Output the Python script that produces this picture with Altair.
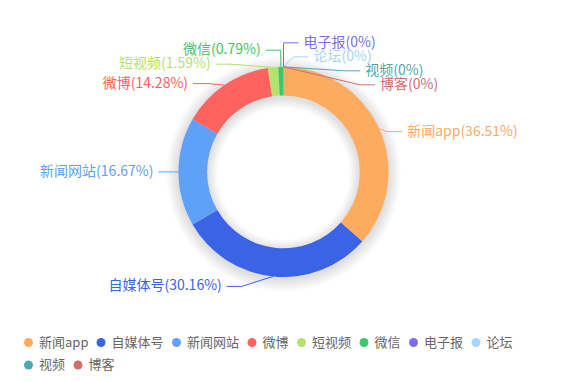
import math
import altair as alt
import pandas as pd

# ---------------- data ----------------
names = ["新闻app", "自媒体号", "新闻网站", "微博", "短视频", "微信", "电子报", "论坛", "视频", "博客"]
counts = [46, 38, 21, 18, 2, 1, 0, 0, 0, 0]
colors = ["#fdab5e", "#3b63e6", "#5fa0f8", "#ff6360", "#b4e26e",
          "#3ec66b", "#7e6cf7", "#a9d3fd", "#4aaab3", "#d06e6a"]

W, H = 567, 382
FONT = "Noto Sans CJK SC"

# ---------------- percentages (largest remainder, 2 decimals) ----------------
total = sum(counts)
quota = [c / total * 10000 for c in counts]
seats = [math.floor(q) for q in quota]
rem = [q - s for q, s in zip(quota, seats)]
left_over = 10000 - sum(seats)
for i in sorted(range(len(rem)), key=lambda k: -rem[k])[:left_over]:
    seats[i] += 1
pcts = [s / 100 for s in seats]


def fmt(p):
    return ("%.2f" % p).rstrip("0").rstrip(".")


labels = [f"{n}({fmt(p)}%)" for n, p in zip(names, pcts)]

# ---------------- outer-label layout (pie label avoid-overlap) ----------------
cx, cy = W * 0.5, H * 0.45
R = min(W, H) / 2 * 0.55
R0 = min(W, H) / 2 * 0.40
LEN, LEN2, DIST, LH = 10, 15, 5, 14

items = []
cum = 0
for i, c in enumerate(counts):
    a0 = cum / total * 2 * math.pi
    cum += c
    a1 = cum / total * 2 * math.pi
    mid = (a0 + a1) / 2
    dx, dy = math.sin(mid), -math.cos(mid)
    s = -1 if dx < -1e-9 else 1
    x1, y1 = cx + R * dx, cy + R * dy
    x2, y2 = x1 + dx * LEN, y1 + dy * LEN
    x3 = x2 + s * LEN2
    items.append({"i": i, "x": x3 + s * DIST, "y": y2, "s": s, "x1": x1, "y1": y1})


def change_x(lst, is_down, d):
    last = float("inf") if is_down else 0.0
    for a in lst:
        ddy = abs(a["y"] - cy)
        if ddy < R + LEN - 1e-6:
            ddx = math.sqrt((R + LEN + LEN2) ** 2 - ddy ** 2)
        else:
            ddx = abs(a["x"] - cx)
        if is_down and ddx >= last:
            ddx = last - 10
        if (not is_down) and ddx <= last:
            ddx = last + 10
        a["x"] = cx + ddx * d
        last = ddx


def adjust(lst, d):
    lst.sort(key=lambda a: a["y"])
    n = len(lst)

    def shift_up(end, delta):
        for j in range(end, -1, -1):
            if lst[j]["y"] - delta < 0:
                break
            lst[j]["y"] -= delta
            if j > 0 and lst[j]["y"] > lst[j - 1]["y"] + LH:
                break

    def shift_down(start, end, delta):
        for j in range(start, end):
            if lst[j]["y"] + delta > H:
                break
            lst[j]["y"] += delta
            if j > start and j + 1 < end and lst[j + 1]["y"] > lst[j]["y"] + LH:
                shift_up(j, delta / 2)
                return
        shift_up(end - 1, delta / 2)

    last_y = 0
    for k in range(n):
        delta = lst[k]["y"] - last_y
        if delta < 0:
            shift_down(k, n, -delta)
        last_y = lst[k]["y"] + LH
    if H - last_y < 0:
        shift_up(n - 1, last_y - H)
    change_x([a for a in lst if a["y"] < cy], False, d)
    change_x([a for a in lst if a["y"] >= cy], True, d)


adjust([a for a in items if a["s"] > 0], 1)
adjust([a for a in items if a["s"] < 0], -1)

line_rows, text_rows = [], []
for a in sorted(items, key=lambda a: a["i"]):
    s = a["s"]
    xe = a["x"] - s * DIST
    xm = xe - s * LEN2
    nm = names[a["i"]]
    for k, (px, py) in enumerate([(a["x1"], a["y1"]), (xm, a["y"]), (xe, a["y"])]):
        line_rows.append({"name": nm, "k": k, "px": px, "py": py})
    text_rows.append({"name": nm, "label": labels[a["i"]], "px": a["x"], "py": a["y"],
                      "side": "right" if s > 0 else "left"})

slices = pd.DataFrame({"name": names, "value": counts, "idx": list(range(len(names)))})
lines_df = pd.DataFrame(line_rows)
texts_df = pd.DataFrame(text_rows)

color_scale = alt.Scale(domain=names, range=colors)
# second scale (same colours, listed in reverse) so that the second legend row stays separate
fill_scale = alt.Scale(domain=names[::-1], range=colors[::-1])

legend_common = dict(
    orient="none", direction="horizontal", symbolType="circle", symbolSize=80,
    symbolStrokeWidth=0, symbolOpacity=1, labelFontSize=13, labelFont=FONT,
    labelColor="#666666", labelOffset=4, columnPadding=5.5, title=None, padding=0,
    columns=8, gridAlign="none",
)
legend_row1 = alt.Legend(values=names[:8], legendX=22, legendY=336, **legend_common)
legend_row2 = alt.Legend(values=names[8:], legendX=22, legendY=358.5, **legend_common)

# soft shadow around the ring
shadow_layers = []
for k in range(1, 9):
    shadow_layers.append(
        alt.Chart(slices.head(1)).mark_arc(
            innerRadius=R0 - k * 1.3, outerRadius=R + k * 1.5, color="#000000", opacity=0.016
        ).encode(x=alt.value(cx), y=alt.value(cy + 2))
    )

arcs = alt.Chart(slices).mark_arc(innerRadius=R0, outerRadius=R).encode(
    theta=alt.Theta("value:Q", stack=True),
    order=alt.Order("idx:Q"),
    color=alt.Color("name:N", scale=color_scale, legend=legend_row1),
    x=alt.value(cx), y=alt.value(cy),
)

guide_lines = alt.Chart(lines_df).mark_line(strokeWidth=1).encode(
    x=alt.X("px:Q", scale=None, axis=None),
    y=alt.Y("py:Q", scale=None, axis=None),
    detail="name:N",
    order="k:Q",
    color=alt.Color("name:N", scale=color_scale, legend=None),
)

text_right = alt.Chart(texts_df).transform_filter(alt.datum.side == "right").mark_text(
    align="left", baseline="middle", fontSize=14, font=FONT
).encode(
    x=alt.X("px:Q", scale=None, axis=None),
    y=alt.Y("py:Q", scale=None, axis=None),
    text="label:N",
    fill=alt.Fill("name:N", scale=fill_scale, legend=legend_row2),
)

text_left = alt.Chart(texts_df).transform_filter(alt.datum.side == "left").mark_text(
    align="right", baseline="middle", fontSize=14, font=FONT
).encode(
    x=alt.X("px:Q", scale=None, axis=None),
    y=alt.Y("py:Q", scale=None, axis=None),
    text="label:N",
    fill=alt.Fill("name:N", scale=fill_scale, legend=None),
)

chart = alt.layer(*shadow_layers, arcs, guide_lines, text_right, text_left).properties(
    width=W, height=H, autosize=alt.AutoSizeParams(type="none"), padding=0,
    background="#ffffff",
).configure_view(stroke=None)

chart.save("out.html", embed_options={"renderer": "svg", "actions": False})
